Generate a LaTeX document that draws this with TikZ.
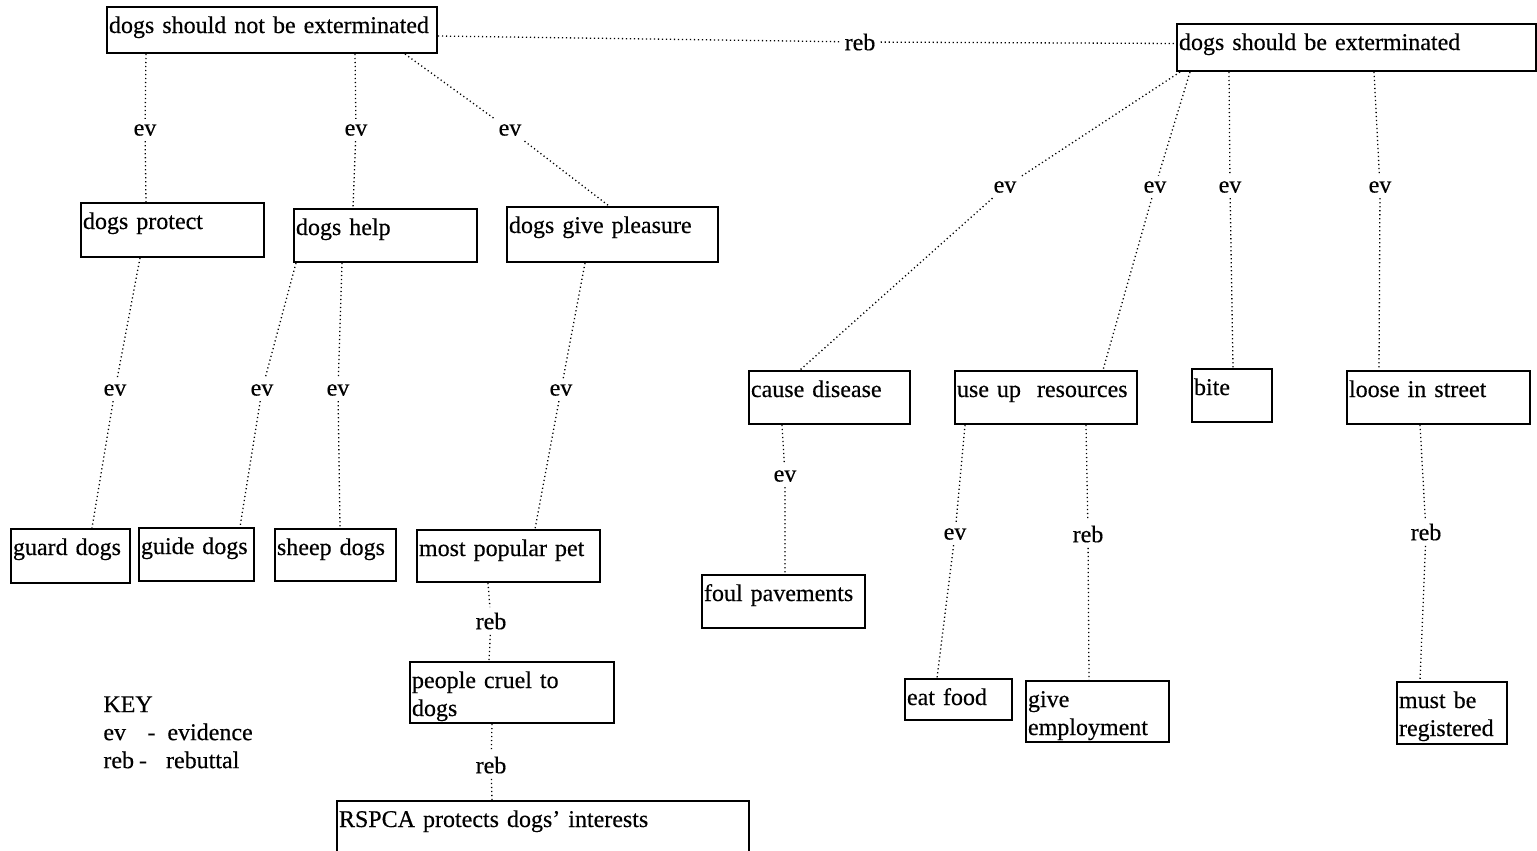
\documentclass[tikz,border=0pt]{standalone}
\usepackage{fontspec}
\setmainfont[WordSpace=0.75, FakeBold=0.4]{Liberation Serif}

\begin{document}
\begin{tikzpicture}[x=0.5pt, y=-0.5pt, font=\fontsize{12}{14}\selectfont,
    claim/.style={draw, line width=1pt, rectangle, anchor=north west, align=left,
        inner xsep=1pt, inner ysep=1.5pt, text height=11.5pt},
    tag/.style={inner sep=2.5pt},
    link/.style={line width=0.65pt, dash pattern=on 0.6pt off 1.4pt}]
    \useasboundingbox (0,0) rectangle (1537,851);

    % the two claims
    \node[claim, text width=163pt, text depth=8.5pt] (notext) at (106,6) {dogs should not be exterminated};
    \node[claim, text width=177.5pt, text depth=9pt] (ext) at (1176,23) {dogs should be exterminated};

    % left side
    \node[claim, text width=89.5pt, text depth=12.5pt] (protect) at (80,202) {dogs protect};
    \node[claim, text width=89.5pt, text depth=12pt] (help) at (293,208) {dogs help};
    \node[claim, text width=103.5pt, text depth=13pt] (pleasure) at (506,206) {dogs give pleasure};
    \node[claim, text width=57.5pt, text depth=12.5pt] (guard) at (10,528) {guard dogs};
    \node[claim, text width=55.5pt, text depth=12pt] (guide) at (138,527) {guide dogs};
    \node[claim, text width=58.5pt, text depth=11.5pt] (sheep) at (274,528) {sheep dogs};
    \node[claim, text width=89.5pt, text depth=11.5pt] (pet) at (416,529) {most popular pet};
    \node[claim, text width=100pt, text depth=16pt] (cruel) at (409,661) {people cruel to\\dogs};
    \node[claim, text width=204pt, text depth=11pt] (rspca) at (336,800) {RSPCA protects dogs' interests};

    % right side
    \node[claim, text width=78.5pt, text depth=12pt] (disease) at (748,370) {cause disease};
    \node[claim, text width=89pt, text depth=12pt] (resources) at (954,370) {use up\ \ resources};
    \node[claim, text width=38pt, text depth=12pt] (bite) at (1191,368) {bite};
    \node[claim, text width=89.5pt, text depth=12pt] (loose) at (1346,370) {loose in street};
    \node[claim, text width=79.5pt, text depth=12pt] (foul) at (701,574) {foul pavements};
    \node[claim, text width=51.5pt, text depth=6pt] (food) at (904,678) {eat food};
    \node[claim, text width=69.5pt, text depth=16pt] (employ) at (1025,680) {give\\employment};
    \node[claim, text width=53pt, text depth=16.5pt] (register) at (1396,681) {must be\\registered};

    % link labels
    \node[tag] (reb0) at (860,42) {reb};
    \node[tag] (ev1) at (145,130) {ev};
    \node[tag] (ev2) at (356,130) {ev};
    \node[tag] (ev3) at (510,130) {ev};
    \node[tag] (ev4) at (115,390) {ev};
    \node[tag] (ev5) at (262,390) {ev};
    \node[tag] (ev6) at (338,390) {ev};
    \node[tag] (ev7) at (561,390) {ev};
    \node[tag] (reb1) at (491,621) {reb};
    \node[tag] (reb2) at (491,765) {reb};
    \node[tag] (ev8) at (1005,187) {ev};
    \node[tag] (ev9) at (1155,187) {ev};
    \node[tag] (ev10) at (1230,187) {ev};
    \node[tag] (ev11) at (1380,187) {ev};
    \node[tag] (ev12) at (785,476) {ev};
    \node[tag] (ev13) at (955,534) {ev};
    \node[tag] (reb3) at (1088,534) {reb};
    \node[tag] (reb4) at (1426,532) {reb};

    \draw[link] ([yshift=-3pt]notext.east) -- (reb0) -- ([yshift=2pt]ext.west);
    \draw[link] ([xshift=20pt]notext.south west) -- (ev1) -- ([xshift=33pt]protect.north west);
    \draw[link] ([xshift=124.5pt]notext.south west) -- (ev2) -- ([xshift=30pt]help.north west);
    \draw[link] ([xshift=149.5pt]notext.south west) -- (ev3) -- ([xshift=51.5pt]pleasure.north west);
    \draw[link] ([xshift=30pt]protect.south west) -- (ev4) -- ([xshift=41pt]guard.north west);
    \draw[link] ([xshift=1.5pt]help.south west) -- (ev5) -- ([xshift=51pt]guide.north west);
    \draw[link] ([xshift=24.5pt]help.south west) -- (ev6) -- ([xshift=33pt]sheep.north west);
    \draw[link] ([xshift=39.5pt]pleasure.south west) -- (ev7) -- ([xshift=59.5pt]pet.north west);
    \draw[link] ([xshift=36pt]pet.south west) -- (reb1) -- ([xshift=40pt]cruel.north west);
    \draw[link] ([xshift=41.5pt]cruel.south west) -- (reb2) -- ([xshift=78pt]rspca.north west);

    \draw[link] ([xshift=2pt]ext.south west) -- (ev8) -- ([xshift=26pt]disease.north west);
    \draw[link] ([xshift=7pt]ext.south west) -- (ev9) -- ([xshift=74.5pt]resources.north west);
    \draw[link] ([xshift=26.5pt]ext.south west) -- (ev10) -- ([xshift=21pt]bite.north west);
    \draw[link] ([xshift=99pt]ext.south west) -- (ev11) -- ([xshift=16.5pt]loose.north west);
    \draw[link] ([xshift=17pt]disease.south west) -- (ev12) -- ([xshift=42pt]foul.north west);
    \draw[link] ([xshift=5.5pt]resources.south west) -- (ev13) -- ([xshift=16.5pt]food.north west);
    \draw[link] ([xshift=66pt]resources.south west) -- (reb3) -- ([xshift=32pt]employ.north west);
    \draw[link] ([xshift=37pt]loose.south west) -- (reb4) -- ([xshift=12pt]register.north west);

    % key
    \node[anchor=north west, align=left, inner sep=0pt] (key) at (103,696)
        {KEY\\ev\hspace{10.7pt}-\hspace{6pt}evidence\\reb\hspace{2.5pt}-\hspace{9.5pt}rebuttal};
\end{tikzpicture}
\end{document}
